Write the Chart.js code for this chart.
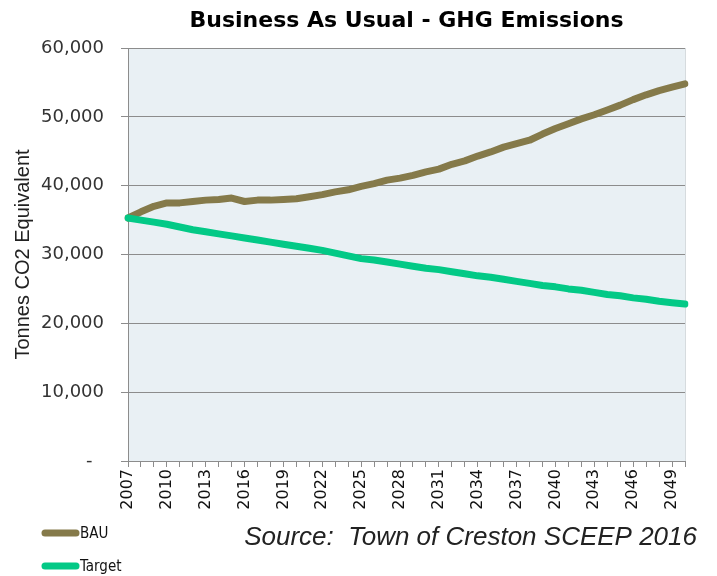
<!DOCTYPE html>
<html>
<head>
<meta charset="utf-8">
<title>Business As Usual - GHG Emissions</title>
<script src="https://cdn.jsdelivr.net/npm/chart.js@4.4.0/dist/chart.umd.min.js"></script>
<style>
  html, body { margin: 0; padding: 0; background: #fff; }
  #wrap { width: 717px; height: 576px; }
</style>
</head>
<body>
<div id="wrap"><canvas id="ghgChart" width="717" height="576"></canvas></div>
<script>
// years 2007 - 2050
const years = [];
for (let y = 2007; y <= 2050; y++) years.push(String(y));

// tonnes CO2e, business as usual
const bau = [
  35300, 36200, 37000, 37500, 37500, 37700, 37900, 38000, 38200, 37700,
  37900, 37900, 38000, 38100, 38400, 38700, 39100, 39400, 39900, 40300,
  40800, 41100, 41500, 42000, 42400, 43100, 43600, 44300, 44900, 45600,
  46100, 46600, 47500, 48300, 49000, 49700, 50300, 51000, 51700, 52500,
  53200, 53800, 54300, 54800
];

// tonnes CO2e, reduction target
const target = [
  35300, 35000, 34700, 34400, 34000, 33600, 33300, 33000, 32700, 32400,
  32100, 31800, 31500, 31200, 30900, 30600, 30200, 29800, 29400, 29200,
  28900, 28600, 28300, 28000, 27800, 27500, 27200, 26900, 26700, 26400,
  26100, 25800, 25500, 25300, 25000, 24800, 24500, 24200, 24000, 23700,
  23500, 23200, 23000, 22800
];

const yTicks = [0, 10000, 20000, 30000, 40000, 50000, 60000];

const plotBg = {
  id: 'plotBg',
  beforeDraw(chart) {
    const { ctx, chartArea: a } = chart;
    ctx.save();
    ctx.fillStyle = '#e9f0f4';
    ctx.fillRect(a.left, a.top, a.right - a.left, a.bottom - a.top);
    ctx.strokeStyle = '#d6dbde';
    ctx.lineWidth = 1;
    ctx.beginPath();
    ctx.moveTo(a.right + 0.5, a.top);
    ctx.lineTo(a.right + 0.5, a.bottom);
    ctx.stroke();
    ctx.restore();
  }
};

// title over the plot area, legend + source note underneath
const extras = {
  id: 'extras',
  afterDraw(chart) {
    const { ctx, chartArea: a } = chart;
    ctx.save();
    ctx.fillStyle = '#000';
    ctx.font = 'bold 22px "DejaVu Sans", Verdana, sans-serif';
    ctx.textAlign = 'center';
    ctx.textBaseline = 'middle';
    ctx.fillText('Business As Usual - GHG Emissions', (a.left + a.right) / 2, 21);

    const rows = [533, 566];
    chart.data.datasets.forEach((ds, i) => {
      const y = rows[i];
      ctx.strokeStyle = ds.borderColor;
      ctx.lineWidth = 7;
      ctx.lineCap = 'round';
      ctx.beginPath();
      ctx.moveTo(45, y);
      ctx.lineTo(76, y);
      ctx.stroke();
      ctx.fillStyle = '#111';
      ctx.font = '15px "DejaVu Sans Condensed", "DejaVu Sans", sans-serif';
      ctx.textAlign = 'left';
      ctx.textBaseline = 'middle';
      ctx.fillText(ds.label, 80, y + 1);
    });

    ctx.fillStyle = '#222';
    ctx.font = 'italic 26px "Liberation Sans", Arial, sans-serif';
    ctx.textAlign = 'right';
    ctx.textBaseline = 'alphabetic';
    ctx.fillText('Source:  Town of Creston SCEEP 2016', 697, 545);
    ctx.restore();
  }
};

new Chart(document.getElementById('ghgChart'), {
  type: 'line',
  data: {
    labels: years,
    datasets: [
      {
        label: 'BAU',
        data: bau,
        borderColor: '#857a4a',
        borderWidth: 7,
        borderCapStyle: 'round',
        borderJoinStyle: 'round',
        pointRadius: 0,
        tension: 0,
        order: 1
      },
      {
        label: 'Target',
        data: target,
        borderColor: '#03c986',
        borderWidth: 7,
        borderCapStyle: 'round',
        borderJoinStyle: 'round',
        pointRadius: 0,
        tension: 0,
        order: 0
      }
    ]
  },
  options: {
    responsive: false,
    animation: false,
    layout: { padding: { left: 0, right: 32, top: 48, bottom: 0 } },
    plugins: {
      legend: { display: false },
      tooltip: { enabled: false }
    },
    scales: {
      x: {
        offset: false,
        grid: {
          drawOnChartArea: false,
          drawTicks: true,
          tickLength: 6,
          color: '#8c8c8c'
        },
        border: { color: '#8c8c8c', width: 1 },
        ticks: {
          autoSkip: false,
          maxRotation: 90,
          minRotation: 90,
          padding: 2,
          color: '#111',
          font: { family: '"DejaVu Sans", Verdana, sans-serif', size: 16 },
          callback(value, index) {
            return index % 3 === 0 ? years[index] : '';
          }
        },
        afterFit(scale) { scale.height = 115; }
      },
      y: {
        min: 0,
        max: 60000,
        afterBuildTicks(scale) {
          scale.ticks = yTicks.map(v => ({ value: v }));
        },
        grid: {
          color: '#8c8c8c',
          tickLength: 7,
          drawTicks: true
        },
        border: { color: '#8c8c8c', width: 1 },
        ticks: {
          padding: 17,
          color: '#333',
          font: { family: '"DejaVu Sans", Verdana, sans-serif', size: 18 },
          callback(value) {
            return value === 0 ? '-  ' : value.toLocaleString('en-US');
          }
        },
        title: {
          display: true,
          text: 'Tonnes CO2 Equivalent',
          color: '#222',
          padding: { top: 11, bottom: 0 },
          font: { family: '"Liberation Sans", Arial, sans-serif', size: 20 }
        },
        afterFit(scale) { scale.width = 128; }
      }
    }
  },
  plugins: [plotBg, extras]
});
</script>
</body>
</html>
